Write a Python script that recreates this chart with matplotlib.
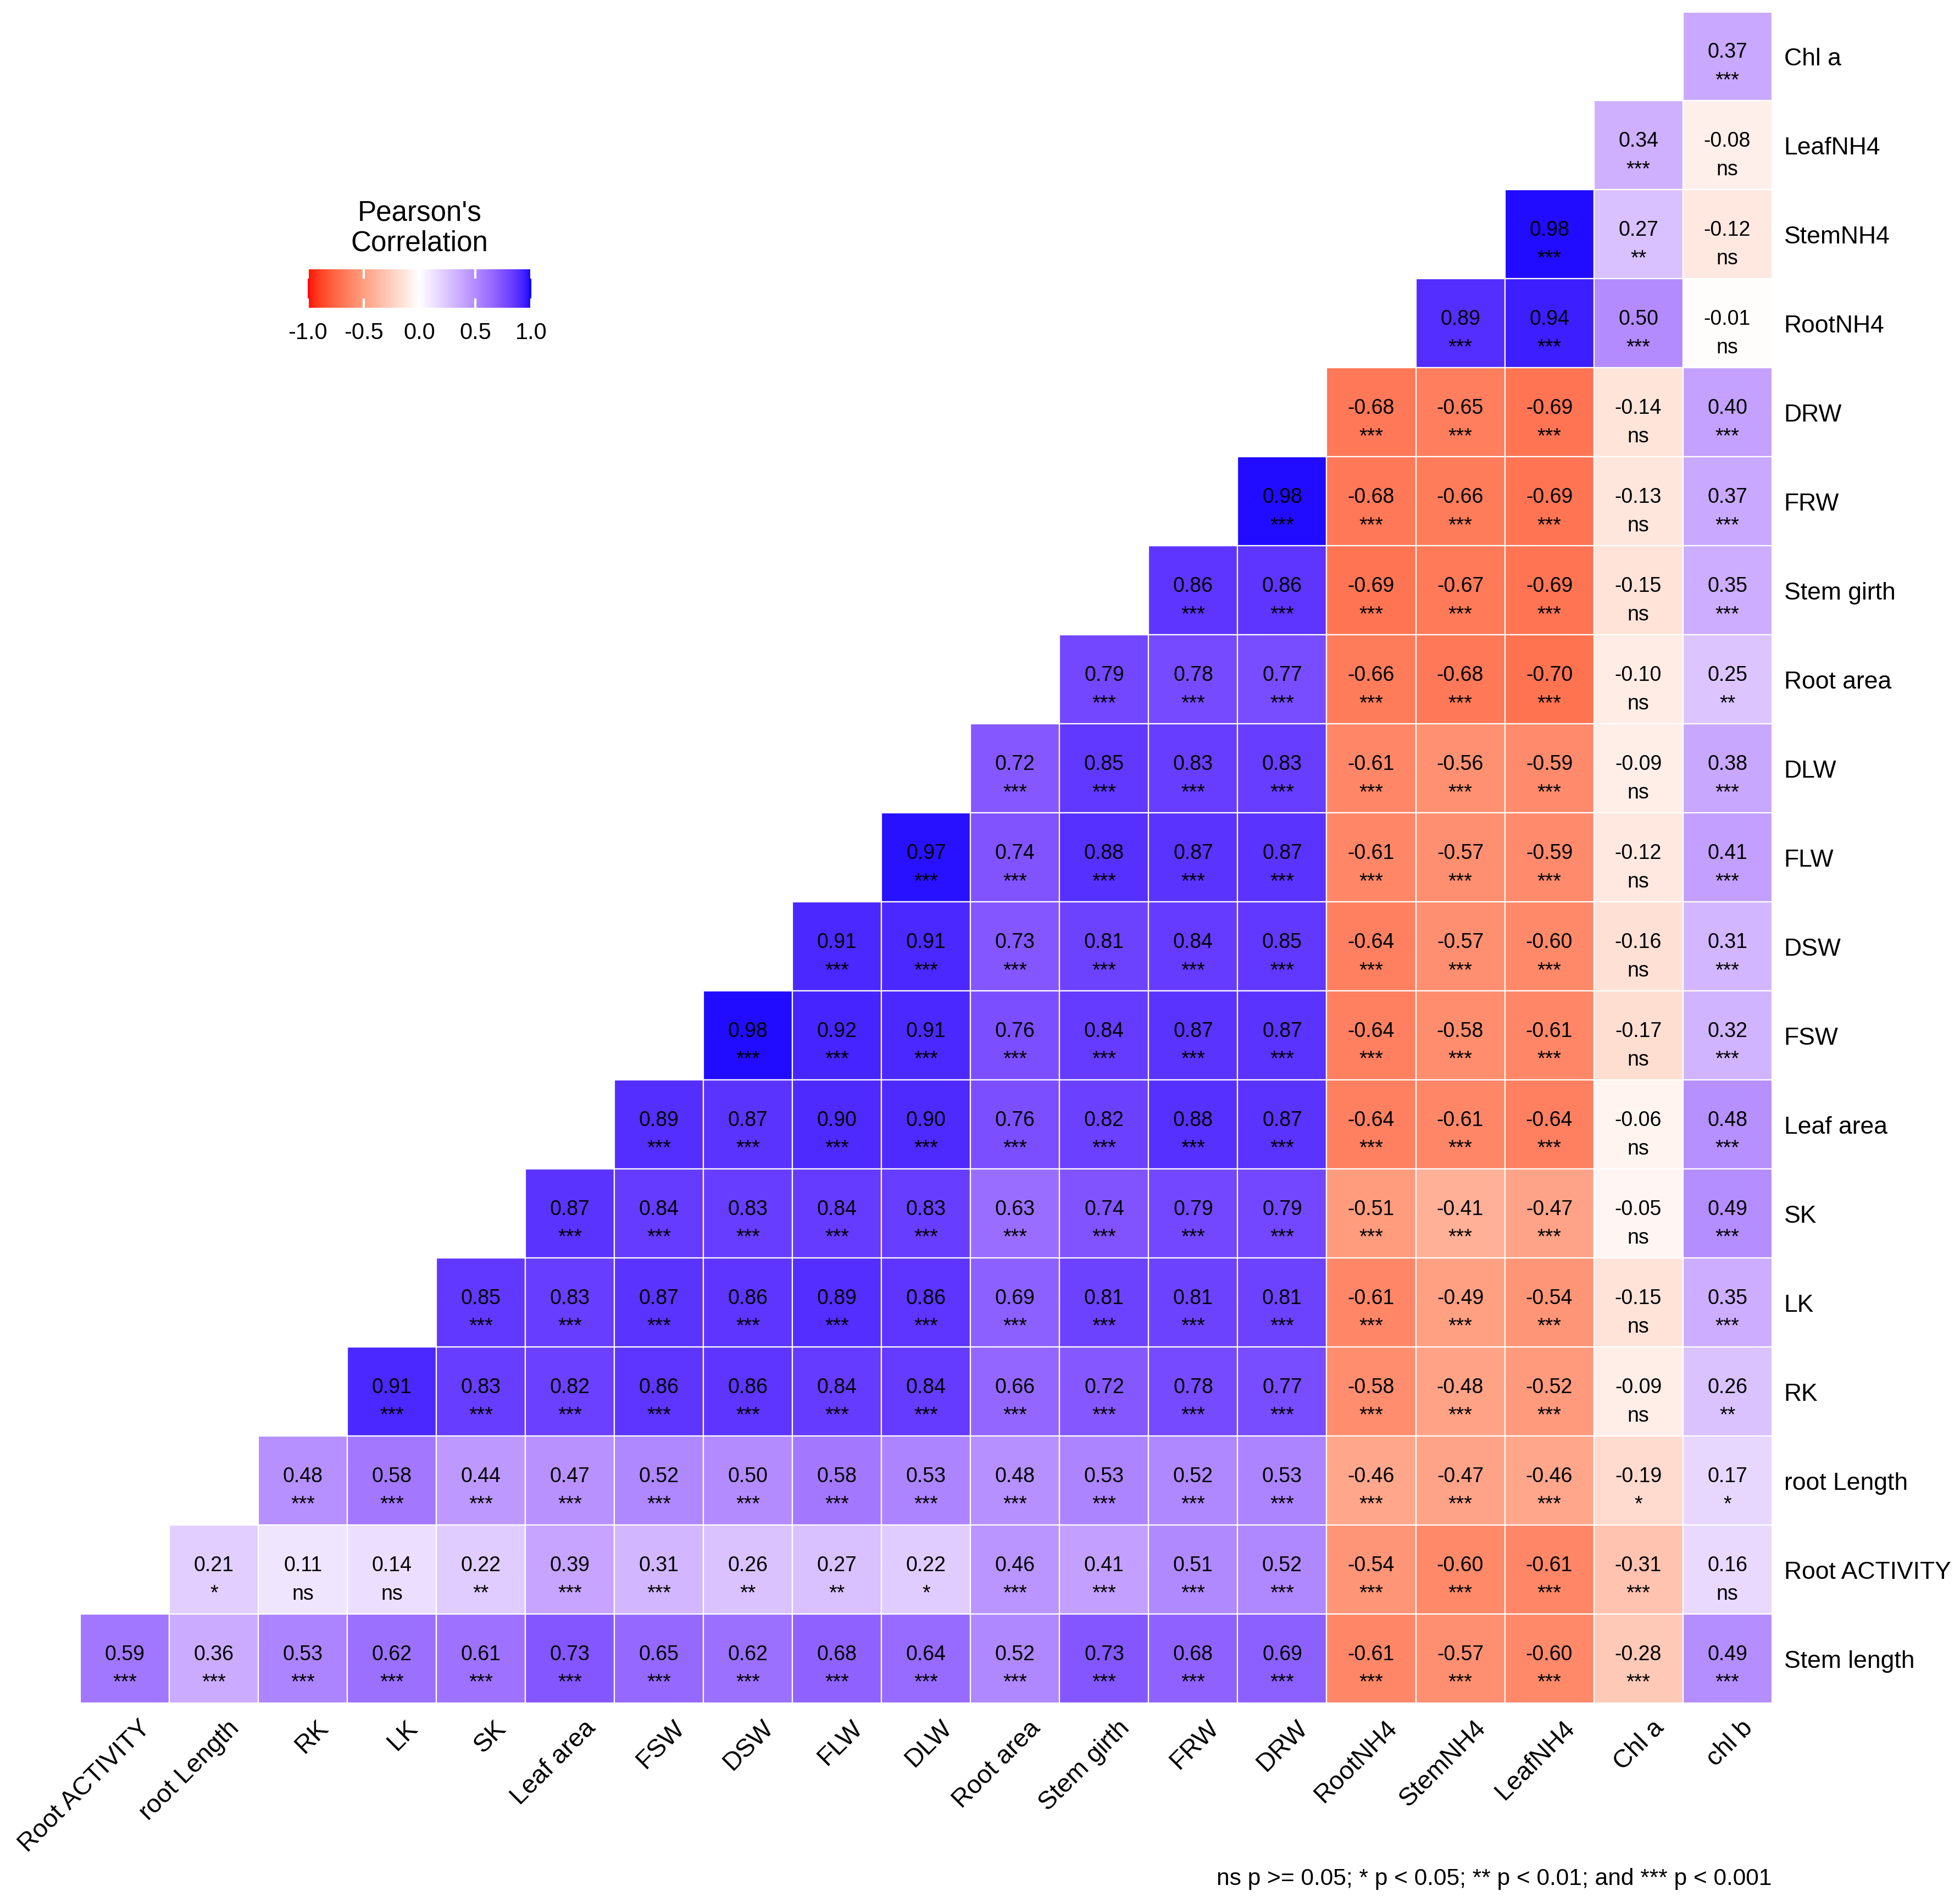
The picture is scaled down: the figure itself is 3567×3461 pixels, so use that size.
import numpy as np
import matplotlib
matplotlib.use("Agg")
import matplotlib.pyplot as plt
from matplotlib.colors import ListedColormap, Normalize
from matplotlib.transforms import ScaledTranslation
from matplotlib.patches import Rectangle
from matplotlib.collections import PatchCollection
import matplotlib.cm as cm

plt.rcParams['font.family'] = ['Liberation Sans', 'DejaVu Sans']
plt.rcParams['axes.unicode_minus'] = False

# column labels (left -> right)
col_labels = ["Root ACTIVITY", "root Length", "RK", "LK", "SK", "Leaf area", "FSW", "DSW",
              "FLW", "DLW", "Root area", "Stem girth", "FRW", "DRW", "RootNH4", "StemNH4",
              "LeafNH4", "Chl a", "chl b"]

# row labels (top -> bottom)
row_labels = ["Chl a", "LeafNH4", "StemNH4", "RootNH4", "DRW", "FRW", "Stem girth", "Root area",
              "DLW", "FLW", "DSW", "FSW", "Leaf area", "SK", "LK", "RK", "root Length",
              "Root ACTIVITY", "Stem length"]

# correlations per row, cells are right-aligned to the "chl b" column
chl_a = [0.37]
leaf_nh4 = [0.34, -0.08]
stem_nh4 = [0.98, 0.27, -0.12]
root_nh4 = [0.89, 0.94, 0.50, -0.01]
drw = [-0.68, -0.65, -0.69, -0.14, 0.40]
frw = [0.98, -0.68, -0.66, -0.69, -0.13, 0.37]
stem_girth = [0.86, 0.86, -0.69, -0.67, -0.69, -0.15, 0.35]
root_area = [0.79, 0.78, 0.77, -0.66, -0.68, -0.70, -0.10, 0.25]
dlw = [0.72, 0.85, 0.83, 0.83, -0.61, -0.56, -0.59, -0.09, 0.38]
flw = [0.97, 0.74, 0.88, 0.87, 0.87, -0.61, -0.57, -0.59, -0.12, 0.41]
dsw = [0.91, 0.91, 0.73, 0.81, 0.84, 0.85, -0.64, -0.57, -0.60, -0.16, 0.31]
fsw = [0.98, 0.92, 0.91, 0.76, 0.84, 0.87, 0.87, -0.64, -0.58, -0.61, -0.17, 0.32]
leaf_area = [0.89, 0.87, 0.90, 0.90, 0.76, 0.82, 0.88, 0.87, -0.64, -0.61, -0.64, -0.06, 0.48]
sk = [0.87, 0.84, 0.83, 0.84, 0.83, 0.63, 0.74, 0.79, 0.79, -0.51, -0.41, -0.47, -0.05, 0.49]
lk = [0.85, 0.83, 0.87, 0.86, 0.89, 0.86, 0.69, 0.81, 0.81, 0.81, -0.61, -0.49, -0.54, -0.15, 0.35]
rk = [0.91, 0.83, 0.82, 0.86, 0.86, 0.84, 0.84, 0.66, 0.72, 0.78, 0.77, -0.58, -0.48, -0.52,
      -0.09, 0.26]
root_length = [0.48, 0.58, 0.44, 0.47, 0.52, 0.50, 0.58, 0.53, 0.48, 0.53, 0.52, 0.53, -0.46,
               -0.47, -0.46, -0.19, 0.17]
root_activity = [0.21, 0.11, 0.14, 0.22, 0.39, 0.31, 0.26, 0.27, 0.22, 0.46, 0.41, 0.51, 0.52,
                 -0.54, -0.60, -0.61, -0.31, 0.16]
stem_length = [0.59, 0.36, 0.53, 0.62, 0.61, 0.73, 0.65, 0.62, 0.68, 0.64, 0.52, 0.73, 0.68,
               0.69, -0.61, -0.57, -0.60, -0.28, 0.49]

# significance labels per row (same order as values)
chl_a_sig = "***"
leaf_nh4_sig = "*** ns"
stem_nh4_sig = "*** ** ns"
root_nh4_sig = "*** *** *** ns"
drw_sig = "*** *** *** ns ***"
frw_sig = "*** *** *** *** ns ***"
stem_girth_sig = "*** *** *** *** *** ns ***"
root_area_sig = "*** *** *** *** *** *** ns **"
dlw_sig = "*** *** *** *** *** *** *** ns ***"
flw_sig = "*** *** *** *** *** *** *** *** ns ***"
dsw_sig = "*** *** *** *** *** *** *** *** *** ns ***"
fsw_sig = "*** *** *** *** *** *** *** *** *** *** ns ***"
leaf_area_sig = "*** *** *** *** *** *** *** *** *** *** *** ns ***"
sk_sig = "*** *** *** *** *** *** *** *** *** *** *** *** ns ***"
lk_sig = "*** *** *** *** *** *** *** *** *** *** *** *** *** ns ***"
rk_sig = "*** *** *** *** *** *** *** *** *** *** *** *** *** *** ns **"
root_length_sig = "*** *** *** *** *** *** *** *** *** *** *** *** *** *** *** * *"
root_activity_sig = "* ns ns ** *** *** ** ** * *** *** *** *** *** *** *** *** ns"
stem_length_sig = "*** *** *** *** *** *** *** *** *** *** *** *** *** *** *** *** *** *** ***"

row_values = [chl_a, leaf_nh4, stem_nh4, root_nh4, drw, frw, stem_girth, root_area, dlw, flw,
              dsw, fsw, leaf_area, sk, lk, rk, root_length, root_activity, stem_length]
row_sigs = [chl_a_sig, leaf_nh4_sig, stem_nh4_sig, root_nh4_sig, drw_sig, frw_sig,
            stem_girth_sig, root_area_sig, dlw_sig, flw_sig, dsw_sig, fsw_sig, leaf_area_sig,
            sk_sig, lk_sig, rk_sig, root_length_sig, root_activity_sig, stem_length_sig]


# red - white - blue gradient interpolated in CIELAB (like ggplot's gradient2)
def srgb_to_lab(rgb):
    c = np.asarray(rgb, float)
    lin = np.where(c <= 0.04045, c / 12.92, ((c + 0.055) / 1.055) ** 2.4)
    m = np.array([[0.4124564, 0.3575761, 0.1804375],
                  [0.2126729, 0.7151522, 0.0721750],
                  [0.0193339, 0.1191920, 0.9503041]])
    t = (m @ lin) / np.array([0.95047, 1.0, 1.08883])
    f = np.where(t > (6 / 29) ** 3, np.cbrt(t), t / (3 * (6 / 29) ** 2) + 4 / 29)
    return np.array([116 * f[1] - 16, 500 * (f[0] - f[1]), 200 * (f[1] - f[2])])


def lab_to_srgb(lab):
    L, a, b = lab
    fy = (L + 16) / 116
    f = np.array([fy + a / 500, fy, fy - b / 200])
    t = np.where(f > 6 / 29, f ** 3, 3 * (6 / 29) ** 2 * (f - 4 / 29))
    xyz = t * np.array([0.95047, 1.0, 1.08883])
    m_inv = np.array([[3.2404542, -1.5371385, -0.4985314],
                      [-0.9692660, 1.8760108, 0.0415560],
                      [0.0556434, -0.2040259, 1.0572252]])
    lin = np.clip(m_inv @ xyz, 0, 1)
    c = np.where(lin <= 0.0031308, 12.92 * lin, 1.055 * lin ** (1 / 2.4) - 0.055)
    return np.clip(c, 0, 1)


lab_low = srgb_to_lab([1, 0, 0])
lab_mid = srgb_to_lab([1, 1, 1])
lab_high = srgb_to_lab([0, 0, 1])
ramp = []
for t in np.linspace(-1, 1, 513):
    end = lab_low if t < 0 else lab_high
    ramp.append(lab_to_srgb(lab_mid + abs(t) * (end - lab_mid)))
cmap = ListedColormap(ramp)
norm = Normalize(-1, 1)

n = len(col_labels)

fig = plt.figure(figsize=(17.835, 17.31), dpi=200)
ax = fig.add_axes([0.041, 0.1045, 0.863, 0.889])

cells, cell_vals = [], []
for i, (vals, sigs) in enumerate(zip(row_values, row_sigs)):
    r = n - 1 - i
    start = n - len(vals)
    for k, (v, s) in enumerate(zip(vals, sigs.split())):
        c = start + k
        cells.append(Rectangle((c - 0.5, r - 0.5), 1, 1))
        cell_vals.append(v)
        ax.text(c, r - 0.01, f"{v:.2f}", ha="center", va="baseline", fontsize=13.5,
                color="black", zorder=3)
        ax.text(c, r - 0.33, s, ha="center", va="baseline", fontsize=13.5,
                color="black", zorder=3)

pc = PatchCollection(cells, cmap=cmap, norm=norm, edgecolor="white", linewidth=0.8)
pc.set_array(np.array(cell_vals))
ax.add_collection(pc)

ax.set_xlim(-0.5, n - 0.5)
ax.set_ylim(-0.5, n - 0.5)
for sp in ax.spines.values():
    sp.set_visible(False)

ax.set_yticks(range(n))
ax.set_yticklabels(row_labels[::-1])
ax.yaxis.tick_right()
ax.tick_params(axis="y", length=0, pad=8, labelsize=16)

ax.set_xticks(range(n))
ax.set_xticklabels(col_labels, rotation=45, ha="right", va="top", rotation_mode="anchor")
ax.tick_params(axis="x", length=0, pad=8, labelsize=16.8)
shift = ScaledTranslation(24 / 200, 0, fig.dpi_scale_trans)
for lbl in ax.get_xticklabels():
    lbl.set_transform(lbl.get_transform() + shift)

# legend
cax = fig.add_axes([0.157, 0.838, 0.114, 0.0202])
cb = fig.colorbar(cm.ScalarMappable(norm=norm, cmap=cmap), cax=cax,
                  orientation="horizontal", ticks=[-1, -0.5, 0, 0.5, 1])
cb.outline.set_visible(False)
cb.ax.set_xticklabels(["-1.0", "-0.5", "0.0", "0.5", "1.0"])
cb.ax.tick_params(direction="in", color="white", length=6, width=1.5, top=True, bottom=True,
                  labelsize=15, pad=9)
fig.text(0.214, 0.880, "Pearson's\nCorrelation", ha="center", va="center", fontsize=18.4,
         linespacing=1.15)

fig.text(0.904, 0.0125, "ns p >= 0.05; * p < 0.05; ** p < 0.01; and *** p < 0.001",
         ha="right", va="center", fontsize=15.3)

fig.savefig("out.png", dpi=200, facecolor="white")
